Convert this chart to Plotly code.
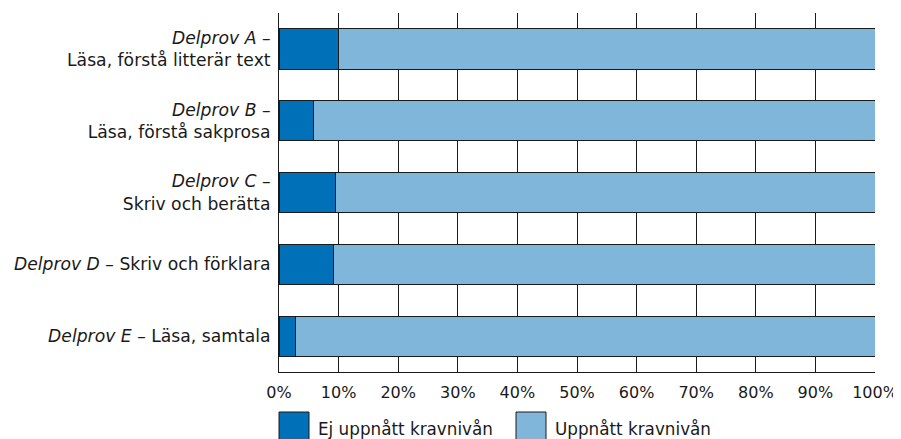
import plotly.graph_objects as go

categories = [
    "<i>Delprov A</i> –<br>Läsa, förstå litterär text",
    "<i>Delprov B</i> –<br>Läsa, förstå sakprosa",
    "<i>Delprov C</i> –<br>Skriv och berätta",
    "<i>Delprov D</i> – Skriv och förklara",
    "<i>Delprov E</i> – Läsa, samtala",
]
ej_uppnatt = [10.0, 5.8, 9.5, 9.2, 2.7]
uppnatt = [100 - v for v in ej_uppnatt]
series_names = ["Ej uppnått kravnivån", "Uppnått kravnivån"]
series_colors = ["#0071b9", "#7fb6da"]
x_ticks = list(range(0, 101, 10))
x_ticklabels = [f"{t}%" for t in x_ticks]

FONT = "DejaVu Sans"
fig = go.Figure()
for name, vals, col in zip(series_names, [ej_uppnatt, uppnatt], series_colors):
    fig.add_trace(go.Bar(
        y=categories, x=vals, name=name, orientation="h",
        marker=dict(color=col, line=dict(color="#1a1a1a", width=1)),
        width=0.56, showlegend=False,
    ))

# page has an 8px body margin; size the figure so the plot lands where the reference has it
OFF = 8
W, H = 901 - OFF, 439 - OFF
L, R, T = 279 - OFF, 26, 13 - OFF
pw, ph = W - L - R, 359
B = H - T - ph

def px(xp):  # screen x -> paper
    return (xp - OFF - L) / pw

def py(yp):  # screen y -> paper
    return (H - B - (yp - OFF)) / ph

# custom legend
legend_x = [279, 516]
for i, (name, col) in enumerate(zip(series_names, series_colors)):
    x0 = legend_x[i]
    fig.add_shape(type="rect", xref="paper", yref="paper",
                  x0=px(x0), x1=px(x0 + 30), y0=py(412), y1=py(442),
                  fillcolor=col, line=dict(color="#1a1a1a", width=1))
    fig.add_annotation(xref="paper", yref="paper", x=px(x0 + 37), y=py(429),
                       text=name, showarrow=False, xanchor="left", yanchor="middle",
                       font=dict(family=FONT, size=16.8, color="#1a1a1a"))

fig.update_layout(
    barmode="stack",
    width=W, height=H,
    margin=dict(l=L, r=R, t=T, b=B, pad=0),
    plot_bgcolor="white", paper_bgcolor="white",
    font=dict(family=FONT, size=17, color="#1a1a1a"),
    bargap=0.44,
)
fig.update_xaxes(range=[0, 100], tickvals=x_ticks, ticktext=x_ticklabels,
                 showgrid=True, gridcolor="#1a1a1a", gridwidth=1,
                 showline=True, linecolor="#1a1a1a", linewidth=1,
                 zeroline=False, ticks="", tickfont=dict(size=16), ticklabelstandoff=6,
                 automargin=False)
fig.update_yaxes(autorange="reversed", showgrid=False, showline=True,
                 linecolor="#1a1a1a", linewidth=1, ticks="", ticklabelstandoff=4,
                 tickfont=dict(size=17.2), automargin=False)

fig.write_html("out.html")
